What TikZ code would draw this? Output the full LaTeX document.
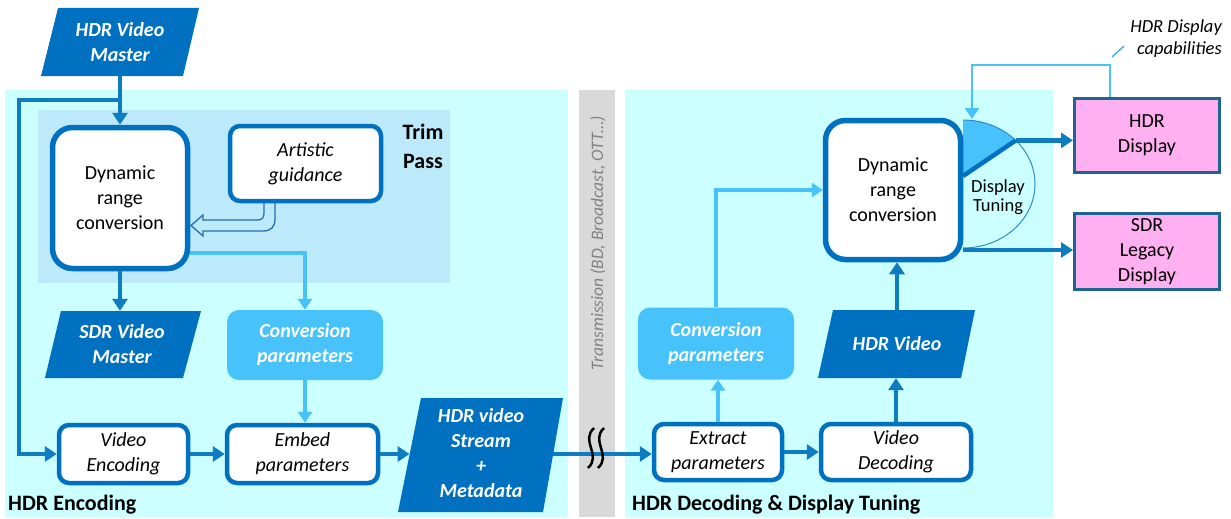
\documentclass[tikz,border=0pt]{standalone}
\usepackage{fontspec}
\setmainfont{Carlito}
\usetikzlibrary{arrows.meta,calc}
\definecolor{panel}{RGB}{204,255,255}
\definecolor{trim}{RGB}{189,234,251}
\definecolor{dblue}{RGB}{0,112,192}
\definecolor{cblue}{RGB}{14,124,192}
\definecolor{lblue}{RGB}{71,194,250}
\definecolor{pinkf}{RGB}{255,176,240}
\definecolor{pinkd}{RGB}{30,100,145}
\definecolor{barg}{RGB}{217,217,217}
\definecolor{txtg}{RGB}{130,130,130}
\definecolor{hollowc}{RGB}{40,110,170}
\definecolor{ellc}{RGB}{46,140,208}
\tikzset{
  conn/.style={draw=cblue, line width=4.5pt, -{Triangle[length=12pt,width=15pt]}},
  connl/.style={draw=lblue, line width=4pt, -{Triangle[length=11pt,width=14pt]}},
  wbox/.style={draw=dblue, fill=white, line width=4.5pt, rounded corners=10pt, inner sep=0pt, align=center, font=\fontsize{20}{25}\selectfont\itshape},
  bigbox/.style={wbox, rounded corners=20pt, line width=5.5pt, font=\fontsize{20}{25}\selectfont},
  cpbox/.style={fill=lblue, rounded corners=12pt, text=white, font=\fontsize{20}{25}\selectfont\bfseries\itshape, align=center, inner sep=0pt},
  ptext/.style={text=white, font=\fontsize{20}{25}\selectfont\bfseries\itshape, align=center, inner sep=0pt},
  disp/.style={draw=pinkd, fill=pinkf, line width=3pt, align=center, font=\fontsize{20}{25}\selectfont, inner sep=0pt},
  sect/.style={font=\fontsize{22}{26}\selectfont\bfseries, inner sep=0pt}
}
\begin{document}
\begin{tikzpicture}[x=1pt,y=-1pt]
\useasboundingbox (0,0) rectangle (1231,519);
% backgrounds
\fill[panel] (5,90) rectangle (568,517);
\fill[panel] (625,90) rectangle (1053,517);
\fill[trim] (38,110) rectangle (450,283);
\fill[barg] (579,90) rectangle (615,517);
\node[rotate=90, text=txtg, font=\fontsize{17.5}{20}\selectfont\itshape, inner sep=0pt] (trans) at (598,243) {Transmission (BD, Broadcast, OTT…)};

% left part
\fill[dblue] (41,76)--(58,8)--(199,8)--(183,76)--cycle;
\node[ptext, minimum width=120pt, minimum height=68pt] (hdrm) at (120,42) {HDR Video\\Master};
\node[bigbox, minimum width=135pt, minimum height=141pt] (drcL) at (120,198) {Dynamic\\range\\conversion};
\node[wbox, minimum width=151pt, minimum height=75pt] (artg) at (305.5,163.5) {Artistic\\guidance};
\node[font=\fontsize{22}{29}\selectfont\bfseries, align=center, inner sep=0pt] (trimlbl) at (423,146) {Trim\\Pass};
\fill[dblue] (45,378)--(61,311)--(201,311)--(183,378)--cycle;
\node[ptext, minimum width=120pt, minimum height=67pt] (sdrm) at (122,344.5) {SDR Video\\Master};
\node[cpbox, minimum width=156pt, minimum height=70pt] (cpL) at (305,345) {Conversion\\parameters};
\node[wbox, minimum width=129pt, minimum height=58pt] (venc) at (123.5,454) {Video\\Encoding};
\node[wbox, minimum width=151pt, minimum height=58pt] (embed) at (302.5,454) {Embed\\parameters};
\fill[dblue] (398,512)--(421,398)--(563,398)--(543,512)--cycle;
\node[ptext, minimum width=130pt, minimum height=114pt] (hdrs) at (481,453) {HDR video\\Stream\\+\\Metadata};
\node[sect, anchor=base west] (encl) at (8,510) {HDR Encoding};

% right part
\node[cpbox, minimum width=156pt, minimum height=72pt] (cpR) at (716,343.5) {Conversion\\parameters};
\fill[dblue] (818,378)--(833,310)--(975,310)--(961,378)--cycle;
\node[ptext, minimum width=120pt, minimum height=68pt] (hdrv) at (897,344) {HDR Video};
\node[wbox, minimum width=128pt, minimum height=56pt] (extr) at (718,452) {Extract\\parameters};
\node[wbox, minimum width=150pt, minimum height=56pt] (vdec) at (896,452) {Video\\Decoding};
\node[sect, anchor=base west] (decl) at (632,510) {HDR Decoding \& Display Tuning};

% display tuning
\fill[lblue] (963,120) arc[start angle=-90,end angle=-43,x radius=72,y radius=64] -- (963,176) -- cycle;
\draw[ellc, line width=1pt] (963,120) arc[start angle=-90,end angle=90,x radius=72,y radius=64];
\coordinate (dtA) at (1015.7,140.4);
\coordinate (dtB) at (963,250);
\draw[dblue, line width=4.5pt] (963,176) -- (dtA);
\node[font=\fontsize{18.5}{19}\selectfont, align=center, inner sep=0pt] (dtlbl) at (998,197) {Display\\Tuning};
\node[bigbox, minimum width=135pt, minimum height=139pt] (drcR) at (893,190) {Dynamic\\range\\conversion};

\node[disp, minimum width=145pt, minimum height=74pt] (hdrd) at (1147,135.5) {HDR\\Display};
\node[disp, minimum width=145pt, minimum height=76pt] (sdrd) at (1147,251.5) {SDR\\Legacy\\Display};
\node[font=\fontsize{18.5}{22}\selectfont\itshape, align=right, anchor=north east, inner sep=0pt] (cap) at (1222,19) {HDR Display\\capabilities};
\draw[lblue!70!dblue, line width=1.3pt] (1112,57) -- (1124,46);

% connectors left
\coordinate (br) at (120,100);
\draw[conn] (hdrm.south) -- (drcL.north);
\draw[conn] (br) -- (19,100) |- (venc.west);
\draw[conn] (drcL.south) -- (drcL.south |- sdrm.north);
\draw[connl] (drcL.east |- 0,253) -| (cpL.north);
\draw[connl] (cpL.south) -- (cpL.south |- embed.north);
\draw[conn] (venc.east) -- (embed.west);
\coordinate (hsL) at (409.5,454);
\coordinate (hsR) at (553,454);
\draw[conn] (embed.east) -- (hsL);
\draw[conn] (hsR) -- (hsR -| extr.west);
\draw[hollowc, line width=1.3pt] (264,203) -- (264,213) .. controls (264,218) and (262,220) .. (257,220) -- (203,220) -- (203,215) -- (191,225.5) -- (203,236) -- (203,231) -- (263,231) .. controls (271,231) and (275,227) .. (275,219) -- (275,203);
\foreach \xx in {591,601} \draw[black, line width=2.5pt] (\xx+3,428) .. controls (\xx-11,441) and (\xx+11,455) .. (\xx-3,468);

% connectors right
\draw[conn] (extr.east) -- (vdec.west);
\draw[connl] (extr.north) -- (extr.north |- cpR.south);
\draw[connl] (cpR.north) |- (drcR.west);
\draw[conn] (vdec.north) -- (vdec.north |- hdrv.south);
\draw[conn] (hdrv.north) -- (hdrv.north |- drcR.south);
\draw[conn] (dtA) -- (dtA -| hdrd.west);
\draw[conn] (dtB) -- (dtB -| sdrd.west);
\coordinate (fbT) at (972,119);
\draw[connl, line width=2.5pt] (1110,0 |- hdrd.north) |- (972,65) -- (fbT);
\end{tikzpicture}
\end{document}
